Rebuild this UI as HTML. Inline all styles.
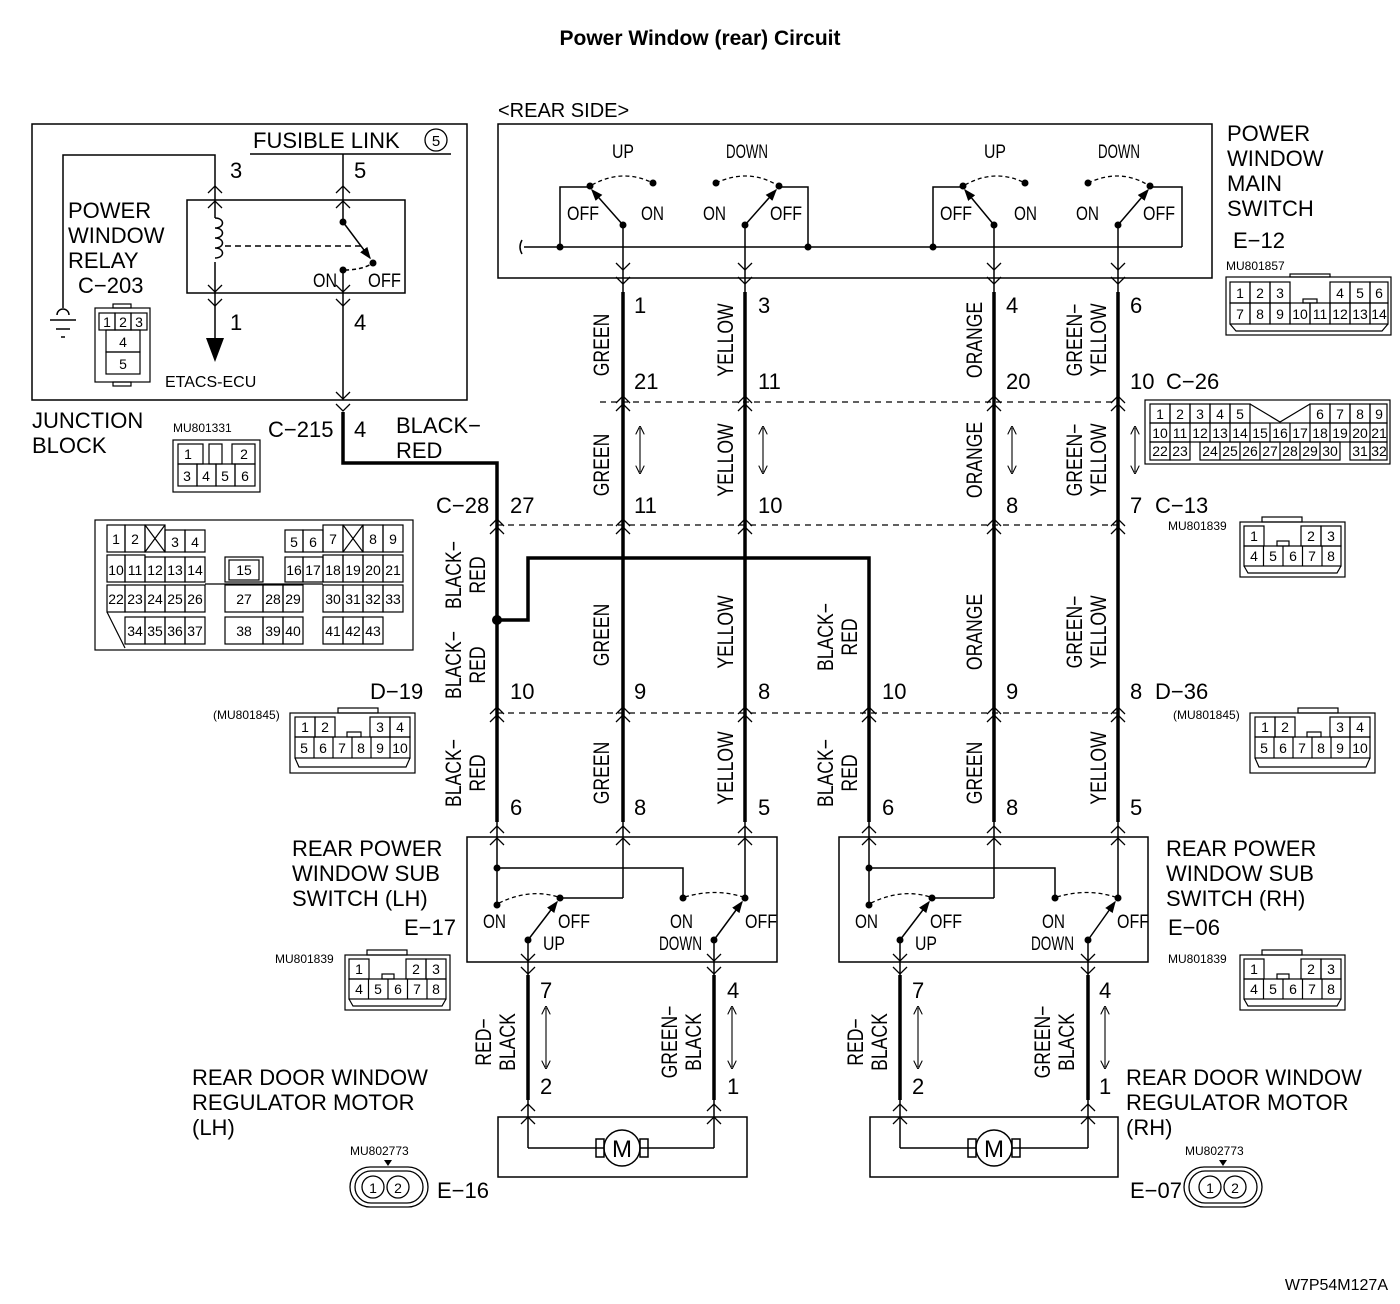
<!DOCTYPE html>
<html><head><meta charset="utf-8"><style>
html,body{margin:0;padding:0;background:#fff}
svg{display:block}
text{font-family:"Liberation Sans",Arial,sans-serif;fill:#000}
.n{font-family:"Liberation Sans Narrow","Liberation Sans",sans-serif}
.c{font-size:14px;text-anchor:middle;font-family:"Liberation Sans Narrow","Liberation Sans",sans-serif}
.w{font-size:22px;text-anchor:middle;font-family:"Liberation Sans Narrow","Liberation Sans",sans-serif}
.b{font-size:22px}
.num{font-size:22px;font-family:"Liberation Sans Narrow","Liberation Sans",sans-serif}
.s{font-size:19px;font-family:"Liberation Sans Narrow","Liberation Sans",sans-serif}
</style></head><body>
<svg width="1400" height="1304" viewBox="0 0 1400 1304" xmlns="http://www.w3.org/2000/svg">
<defs>
<polyline id="dn" points="-7,-7 0,0 7,-7" fill="none" stroke="#000" stroke-width="1.3"/>
<polyline id="up" points="-7,7 0,0 7,7" fill="none" stroke="#000" stroke-width="1.3"/>
<marker id="ah" markerWidth="8" markerHeight="8" refX="6" refY="4" orient="auto-start-reverse"><path d="M0,0 L8,4 L0,8" fill="none" stroke="#000"/></marker>
<marker id="af" markerWidth="8" markerHeight="8" refX="7" refY="4" orient="auto"><path d="M0,1 L8,4 L0,7z" fill="#000"/></marker>
</defs>

<text x="700" y="45" text-anchor="middle" style="font-size:21px;font-weight:bold">Power Window (rear) Circuit</text>

<!-- JUNCTION BLOCK -->
<g fill="none" stroke="#000" stroke-width="1.5">
<rect x="32" y="124" width="435" height="276"/>
<line x1="250" y1="154" x2="451" y2="154"/>
<rect x="187" y="200" width="218" height="93"/>
<polyline points="215,200 215,155 63,155 63,308"/>
<line x1="215" y1="200" x2="215" y2="218"/>
<line x1="215" y1="262" x2="215" y2="330"/>
<path d="M215,218 c10,0 10,10 0,10 c10,0 10,10 0,10 c10,0 10,10 0,10 c10,0 10,10 0,10" />
<line x1="225" y1="246" x2="365" y2="246" stroke-dasharray="6,4"/>
<line x1="343" y1="154" x2="343" y2="222"/>
<line x1="343" y1="222" x2="370" y2="258" marker-end="url(#af)"/>
<line x1="343" y1="270" x2="343" y2="400"/>
<path d="M345,270 Q362,270 373,263" stroke-dasharray="4,3"/>
</g>
<circle cx="343" cy="222" r="3.5"/><circle cx="373" cy="263" r="3.5"/><circle cx="343" cy="270" r="3.5"/>
<polygon points="206,338 224,338 215,362"/>
<line x1="215" y1="330" x2="215" y2="340" stroke="#000" stroke-width="1.5"/>
<g stroke="#000" stroke-width="1.5" fill="none"><path d="M57,315 a6,6 0 0 1 12,0"/><line x1="50" y1="320" x2="76" y2="320"/><line x1="56" y1="329" x2="70" y2="329"/><line x1="61" y1="337" x2="65" y2="337"/></g>
<g>
<use href="#up" x="215" y="186"/><use href="#up" x="215" y="201"/>
<use href="#up" x="343" y="186"/><use href="#up" x="343" y="201"/>
<use href="#dn" x="215" y="292"/><use href="#dn" x="215" y="306"/>
<use href="#dn" x="343" y="292"/><use href="#dn" x="343" y="306"/>
<use href="#dn" x="343" y="399"/><use href="#dn" x="343" y="411"/>
</g>
<text x="253" y="148" class="b">FUSIBLE LINK</text>
<circle cx="436" cy="140" r="11" fill="none" stroke="#000" stroke-width="1.3"/><text x="436" y="146" text-anchor="middle" style="font-size:15px">5</text>
<text x="230" y="178" class="num">3</text><text x="354" y="178" class="num">5</text>
<text x="230" y="330" class="num">1</text><text x="354" y="330" class="num">4</text>
<text x="68" y="218" class="b">POWER</text><text x="68" y="243" class="b">WINDOW</text><text x="68" y="268" class="b">RELAY</text>
<text x="78" y="293" class="num">C−203</text>
<text x="313" y="287" class="s" textLength="24" lengthAdjust="spacingAndGlyphs">ON</text><text x="368" y="287" class="s" textLength="33" lengthAdjust="spacingAndGlyphs">OFF</text>
<text x="165" y="387" style="font-size:16px">ETACS-ECU</text>
<text x="32" y="428" class="b">JUNCTION</text><text x="32" y="453" class="b">BLOCK</text>
<text x="268" y="437" class="num">C−215</text><text x="354" y="437" class="num">4</text>
<text x="396" y="433" class="b">BLACK−</text><text x="396" y="458" class="b">RED</text>
<!-- C-203 -->
<g fill="none" stroke="#000" stroke-width="1.2">
<rect x="95" y="308" width="55" height="74"/><rect x="113" y="304" width="18" height="4"/><rect x="113" y="382" width="18" height="4"/>
<rect x="99" y="313" width="16" height="17"/><rect x="115" y="313" width="16" height="17"/><rect x="131" y="313" width="16" height="17"/>
<rect x="106" y="330" width="34" height="22"/><rect x="106" y="352" width="34" height="22"/>
</g>
<text x="107" y="327" class="c">1</text><text x="123" y="327" class="c">2</text><text x="139" y="327" class="c">3</text>
<text x="123" y="347" class="c">4</text><text x="123" y="369" class="c">5</text>
<!-- C-215 -->
<text x="173" y="432" style="font-size:12px" class="n">MU801331</text>
<g fill="none" stroke="#000" stroke-width="1.2">
<rect x="173" y="440" width="87" height="52"/>
<rect x="178" y="444" width="25" height="20"/><rect x="209" y="444" width="13" height="20"/><rect x="232" y="444" width="23" height="20"/>
<rect x="178" y="464" width="19" height="22"/><rect x="197" y="464" width="19" height="22"/><rect x="216" y="464" width="19" height="22"/><rect x="235" y="464" width="20" height="22"/>
</g>
<text x="188" y="459" class="c">1</text><text x="244" y="459" class="c">2</text>
<text x="187" y="481" class="c">3</text><text x="206" y="481" class="c">4</text><text x="225" y="481" class="c">5</text><text x="245" y="481" class="c">6</text>

<!-- C-28 big connector -->
<g fill="none" stroke="#000" stroke-width="1.2">
<rect x="95" y="520" width="318" height="130"/>
<rect x="107" y="525" width="18" height="27"/><rect x="125" y="525" width="20" height="27"/><rect x="145" y="525" width="20" height="27"/><rect x="165" y="530" width="20" height="22"/><rect x="185" y="530" width="20" height="22"/>
<line x1="145" y1="525" x2="165" y2="552"/><line x1="165" y1="525" x2="145" y2="552"/>
<rect x="107" y="555" width="18" height="27"/><rect x="125" y="555" width="20" height="27"/><rect x="145" y="557" width="20" height="25"/><rect x="165" y="557" width="20" height="25"/><rect x="185" y="557" width="20" height="25"/>
<rect x="107" y="585" width="18" height="27"/><rect x="125" y="585" width="20" height="27"/><rect x="145" y="585" width="20" height="27"/><rect x="165" y="585" width="20" height="27"/><rect x="185" y="585" width="20" height="27"/>
<rect x="125" y="617" width="20" height="27"/><rect x="145" y="617" width="20" height="27"/><rect x="165" y="617" width="20" height="27"/><rect x="185" y="617" width="20" height="27"/>
<line x1="107" y1="612" x2="125" y2="648"/>
<rect x="225" y="557" width="38" height="25"/><rect x="229" y="560" width="30" height="20"/>
<rect x="225" y="585" width="38" height="27"/><rect x="263" y="585" width="20" height="27"/><rect x="283" y="585" width="20" height="27"/>
<rect x="225" y="617" width="38" height="27"/><rect x="263" y="617" width="20" height="27"/><rect x="283" y="617" width="20" height="27"/>
<rect x="285" y="530" width="18" height="22"/><rect x="303" y="530" width="20" height="22"/><rect x="323" y="525" width="20" height="27"/><rect x="343" y="525" width="20" height="27"/><rect x="363" y="525" width="20" height="27"/><rect x="383" y="525" width="20" height="27"/>
<line x1="343" y1="525" x2="363" y2="552"/><line x1="363" y1="525" x2="343" y2="552"/>
<rect x="285" y="557" width="18" height="25"/><rect x="303" y="557" width="20" height="25"/><rect x="323" y="555" width="20" height="27"/><rect x="343" y="555" width="20" height="27"/><rect x="363" y="555" width="20" height="27"/><rect x="383" y="555" width="20" height="27"/>
<rect x="323" y="585" width="20" height="27"/><rect x="343" y="585" width="20" height="27"/><rect x="363" y="585" width="20" height="27"/><rect x="383" y="585" width="20" height="27"/>
<rect x="323" y="617" width="20" height="27"/><rect x="343" y="617" width="20" height="27"/><rect x="363" y="617" width="20" height="27"/>
<line x1="205" y1="584" x2="323" y2="584"/>
</g>
<g>
<text x="116" y="544" class="c">1</text><text x="135" y="544" class="c">2</text><text x="175" y="547" class="c">3</text><text x="195" y="547" class="c">4</text>
<text x="116" y="575" class="c">10</text><text x="135" y="575" class="c">11</text><text x="155" y="575" class="c">12</text><text x="175" y="575" class="c">13</text><text x="195" y="575" class="c">14</text>
<text x="116" y="604" class="c">22</text><text x="135" y="604" class="c">23</text><text x="155" y="604" class="c">24</text><text x="175" y="604" class="c">25</text><text x="195" y="604" class="c">26</text>
<text x="135" y="636" class="c">34</text><text x="155" y="636" class="c">35</text><text x="175" y="636" class="c">36</text><text x="195" y="636" class="c">37</text>
<text x="244" y="575" class="c">15</text><text x="244" y="604" class="c">27</text><text x="273" y="604" class="c">28</text><text x="293" y="604" class="c">29</text>
<text x="244" y="636" class="c">38</text><text x="273" y="636" class="c">39</text><text x="293" y="636" class="c">40</text>
<text x="294" y="547" class="c">5</text><text x="313" y="547" class="c">6</text><text x="333" y="544" class="c">7</text><text x="373" y="544" class="c">8</text><text x="393" y="544" class="c">9</text>
<text x="294" y="575" class="c">16</text><text x="313" y="575" class="c">17</text><text x="333" y="575" class="c">18</text><text x="353" y="575" class="c">19</text><text x="373" y="575" class="c">20</text><text x="393" y="575" class="c">21</text>
<text x="333" y="604" class="c">30</text><text x="353" y="604" class="c">31</text><text x="373" y="604" class="c">32</text><text x="393" y="604" class="c">33</text>
<text x="333" y="636" class="c">41</text><text x="353" y="636" class="c">42</text><text x="373" y="636" class="c">43</text>
</g>

<!-- MAIN SWITCH -->
<text x="498" y="117" style="font-size:20px">&lt;REAR SIDE&gt;</text>
<g fill="none" stroke="#000" stroke-width="1.5">
<rect x="498" y="124" width="714" height="154"/>
<path d="M522,240 q-4,7 0,14"/>
<line x1="524" y1="247" x2="1182" y2="247"/>
<polyline points="560,247 560,187 590,187"/>
<polyline points="779,187 808,187 808,247"/>
<polyline points="933,247 933,187 963,187"/>
<polyline points="1150,187 1182,187 1182,247"/>
<line x1="623" y1="225" x2="592" y2="190" marker-end="url(#af)"/>
<line x1="745" y1="225" x2="776" y2="190" marker-end="url(#af)"/>
<line x1="994" y1="225" x2="965" y2="190" marker-end="url(#af)"/>
<line x1="1118" y1="225" x2="1148" y2="190" marker-end="url(#af)"/>
<g stroke-dasharray="4,3" stroke-width="1.3">
<path d="M592,185 Q622,168 653,183"/><path d="M716,183 Q748,168 777,185"/>
<path d="M965,185 Q995,168 1025,183"/><path d="M1088,183 Q1120,168 1148,185"/>
</g>
</g>
<g>
<circle cx="590" cy="186" r="3.5"/><circle cx="653" cy="183" r="3.5"/><circle cx="623" cy="225" r="3.5"/>
<circle cx="716" cy="183" r="3.5"/><circle cx="779" cy="186" r="3.5"/><circle cx="745" cy="225" r="3.5"/>
<circle cx="963" cy="186" r="3.5"/><circle cx="1025" cy="183" r="3.5"/><circle cx="994" cy="225" r="3.5"/>
<circle cx="1088" cy="183" r="3.5"/><circle cx="1150" cy="186" r="3.5"/><circle cx="1118" cy="225" r="3.5"/>
<circle cx="560" cy="247" r="3.5"/><circle cx="808" cy="247" r="3.5"/><circle cx="933" cy="247" r="3.5"/>
</g>
<g class="s">
<text x="612" y="158" textLength="22" lengthAdjust="spacingAndGlyphs">UP</text><text x="726" y="158" textLength="42" lengthAdjust="spacingAndGlyphs">DOWN</text><text x="984" y="158" textLength="22" lengthAdjust="spacingAndGlyphs">UP</text><text x="1098" y="158" textLength="42" lengthAdjust="spacingAndGlyphs">DOWN</text>
<text x="567" y="220" textLength="32" lengthAdjust="spacingAndGlyphs">OFF</text><text x="641" y="220" textLength="23" lengthAdjust="spacingAndGlyphs">ON</text><text x="703" y="220" textLength="23" lengthAdjust="spacingAndGlyphs">ON</text><text x="770" y="220" textLength="32" lengthAdjust="spacingAndGlyphs">OFF</text>
<text x="940" y="220" textLength="32" lengthAdjust="spacingAndGlyphs">OFF</text><text x="1014" y="220" textLength="23" lengthAdjust="spacingAndGlyphs">ON</text><text x="1076" y="220" textLength="23" lengthAdjust="spacingAndGlyphs">ON</text><text x="1143" y="220" textLength="32" lengthAdjust="spacingAndGlyphs">OFF</text>
</g>
<text x="1227" y="141" class="b">POWER</text><text x="1227" y="166" class="b">WINDOW</text><text x="1227" y="191" class="b">MAIN</text><text x="1227" y="216" class="b">SWITCH</text>
<text x="1233" y="248" class="num">E−12</text>
<text x="1226" y="270" style="font-size:12px" class="n">MU801857</text>
<!-- E-12 connector -->
<g fill="none" stroke="#000" stroke-width="1.2">
<rect x="1226" y="277" width="165" height="58"/><rect x="1290" y="274" width="40" height="3"/>
<rect x="1230" y="282" width="20" height="21"/><rect x="1250" y="282" width="20" height="21"/><rect x="1270" y="282" width="20" height="21"/>
<rect x="1330" y="282" width="20" height="21"/><rect x="1350" y="282" width="20" height="21"/><rect x="1370" y="282" width="18" height="21"/>
<rect x="1303" y="299" width="14" height="4"/>
<rect x="1230" y="303" width="20" height="21"/><rect x="1250" y="303" width="20" height="21"/><rect x="1270" y="303" width="20" height="21"/><rect x="1290" y="303" width="20" height="21"/><rect x="1310" y="303" width="20" height="21"/><rect x="1330" y="303" width="20" height="21"/><rect x="1350" y="303" width="20" height="21"/><rect x="1370" y="303" width="18" height="21"/>
<polyline points="1230,324 1236,331 1382,331 1388,324"/>
</g>
<g>
<text x="1240" y="298" class="c">1</text><text x="1260" y="298" class="c">2</text><text x="1280" y="298" class="c">3</text><text x="1340" y="298" class="c">4</text><text x="1360" y="298" class="c">5</text><text x="1379" y="298" class="c">6</text>
<text x="1240" y="319" class="c">7</text><text x="1260" y="319" class="c">8</text><text x="1280" y="319" class="c">9</text><text x="1300" y="319" class="c">10</text><text x="1320" y="319" class="c">11</text><text x="1340" y="319" class="c">12</text><text x="1360" y="319" class="c">13</text><text x="1379" y="319" class="c">14</text>
</g>

<!-- C-26 connector -->
<g fill="none" stroke="#000" stroke-width="1.2">
<rect x="1145" y="400" width="245" height="64"/>
<rect x="1150" y="404" width="20" height="19"/><rect x="1170" y="404" width="20" height="19"/><rect x="1190" y="404" width="20" height="19"/><rect x="1210" y="404" width="20" height="19"/><rect x="1230" y="404" width="20" height="19"/>
<polyline points="1250,404 1280,422 1310,404"/>
<rect x="1310" y="404" width="20" height="19"/><rect x="1330" y="404" width="20" height="19"/><rect x="1350" y="404" width="20" height="19"/><rect x="1370" y="404" width="17" height="19"/>
<rect x="1150" y="423" width="237" height="19"/>
<line x1="1170" y1="423" x2="1170" y2="442"/><line x1="1190" y1="423" x2="1190" y2="442"/><line x1="1210" y1="423" x2="1210" y2="442"/><line x1="1230" y1="423" x2="1230" y2="442"/><line x1="1250" y1="423" x2="1250" y2="442"/><line x1="1270" y1="423" x2="1270" y2="442"/><line x1="1290" y1="423" x2="1290" y2="442"/><line x1="1310" y1="423" x2="1310" y2="442"/><line x1="1330" y1="423" x2="1330" y2="442"/><line x1="1350" y1="423" x2="1350" y2="442"/><line x1="1370" y1="423" x2="1370" y2="442"/>
<rect x="1150" y="442" width="20" height="18"/><rect x="1170" y="442" width="20" height="18"/>
<rect x="1200" y="442" width="140" height="18"/>
<line x1="1220" y1="442" x2="1220" y2="460"/><line x1="1240" y1="442" x2="1240" y2="460"/><line x1="1260" y1="442" x2="1260" y2="460"/><line x1="1280" y1="442" x2="1280" y2="460"/><line x1="1300" y1="442" x2="1300" y2="460"/><line x1="1320" y1="442" x2="1320" y2="460"/>
<rect x="1350" y="442" width="20" height="18"/><rect x="1370" y="442" width="17" height="18"/>
</g>
<g>
<text x="1160" y="419" class="c">1</text><text x="1180" y="419" class="c">2</text><text x="1200" y="419" class="c">3</text><text x="1220" y="419" class="c">4</text><text x="1240" y="419" class="c">5</text><text x="1320" y="419" class="c">6</text><text x="1340" y="419" class="c">7</text><text x="1360" y="419" class="c">8</text><text x="1379" y="419" class="c">9</text>
<text x="1160" y="438" class="c">10</text><text x="1180" y="438" class="c">11</text><text x="1200" y="438" class="c">12</text><text x="1220" y="438" class="c">13</text><text x="1240" y="438" class="c">14</text><text x="1260" y="438" class="c">15</text><text x="1280" y="438" class="c">16</text><text x="1300" y="438" class="c">17</text><text x="1320" y="438" class="c">18</text><text x="1340" y="438" class="c">19</text><text x="1360" y="438" class="c">20</text><text x="1379" y="438" class="c">21</text>
<text x="1160" y="456" class="c">22</text><text x="1180" y="456" class="c">23</text><text x="1210" y="456" class="c">24</text><text x="1230" y="456" class="c">25</text><text x="1250" y="456" class="c">26</text><text x="1270" y="456" class="c">27</text><text x="1290" y="456" class="c">28</text><text x="1310" y="456" class="c">29</text><text x="1330" y="456" class="c">30</text><text x="1360" y="456" class="c">31</text><text x="1379" y="456" class="c">32</text>
</g>

<!-- C-13 connector -->
<text x="1168" y="530" style="font-size:12px" class="n">MU801839</text>
<g id="c13">
<g fill="none" stroke="#000" stroke-width="1.2">
<rect x="1240" y="522" width="105" height="55"/><rect x="1262" y="517" width="40" height="5"/>
<rect x="1244" y="526" width="20" height="20"/><rect x="1301" y="526" width="20" height="20"/><rect x="1321" y="526" width="20" height="20"/>
<rect x="1277" y="541" width="12" height="5"/>
<rect x="1244" y="546" width="97" height="20"/>
<line x1="1263.5" y1="546" x2="1263.5" y2="566"/><line x1="1283" y1="546" x2="1283" y2="566"/><line x1="1302.5" y1="546" x2="1302.5" y2="566"/><line x1="1322" y1="546" x2="1322" y2="566"/>
<polyline points="1244,566 1248,573 1337,573 1341,566"/>
</g>
<text x="1254" y="541" class="c">1</text><text x="1311" y="541" class="c">2</text><text x="1331" y="541" class="c">3</text>
<text x="1254" y="561" class="c">4</text><text x="1273" y="561" class="c">5</text><text x="1293" y="561" class="c">6</text><text x="1312" y="561" class="c">7</text><text x="1331" y="561" class="c">8</text>
</g>
<use href="#c13" x="-895" y="433"/>
<use href="#c13" x="0" y="433"/>
<text x="275" y="963" style="font-size:12px" class="n">MU801839</text>
<text x="1168" y="963" style="font-size:12px" class="n">MU801839</text>

<!-- D-19 connector -->
<text x="213" y="719" style="font-size:12px" class="n">(MU801845)</text>
<g id="d19">
<g fill="none" stroke="#000" stroke-width="1.2">
<rect x="290" y="713" width="125" height="60"/><rect x="338" y="708" width="40" height="5"/>
<rect x="295" y="717" width="20" height="20"/><rect x="315" y="717" width="20" height="20"/><rect x="370" y="717" width="20" height="20"/><rect x="390" y="717" width="20" height="20"/>
<rect x="347" y="732" width="14" height="5"/>
<rect x="295" y="737" width="115" height="21"/>
<line x1="314" y1="737" x2="314" y2="758"/><line x1="333" y1="737" x2="333" y2="758"/><line x1="352" y1="737" x2="352" y2="758"/><line x1="371" y1="737" x2="371" y2="758"/><line x1="390" y1="737" x2="390" y2="758"/>
<polyline points="295,758 299,767 406,767 410,758"/>
</g>
<text x="305" y="732" class="c">1</text><text x="325" y="732" class="c">2</text><text x="380" y="732" class="c">3</text><text x="400" y="732" class="c">4</text>
<text x="304" y="753" class="c">5</text><text x="323" y="753" class="c">6</text><text x="342" y="753" class="c">7</text><text x="361" y="753" class="c">8</text><text x="380" y="753" class="c">9</text><text x="400" y="753" class="c">10</text>
</g>
<use href="#d19" x="960" y="0"/>
<text x="1173" y="719" style="font-size:12px" class="n">(MU801845)</text>

<!-- WIRES -->
<g fill="none" stroke="#000" stroke-width="1.5">
<line x1="623" y1="225" x2="623" y2="292"/><line x1="745" y1="225" x2="745" y2="292"/><line x1="994" y1="225" x2="994" y2="292"/><line x1="1118" y1="225" x2="1118" y2="292"/>
<line x1="623" y1="822" x2="623" y2="898"/><polyline points="623,898 560,898"/>
<line x1="745" y1="822" x2="745" y2="898"/>
<line x1="994" y1="822" x2="994" y2="898"/><polyline points="994,898 932,898"/>
<line x1="1118" y1="822" x2="1118" y2="898"/>
<line x1="497" y1="822" x2="497" y2="905"/><polyline points="497,868 683,868 683,898"/>
<line x1="869" y1="822" x2="869" y2="905"/><polyline points="869,868 1055,868 1055,898"/>
<line x1="528" y1="940" x2="528" y2="975"/><line x1="714" y1="940" x2="714" y2="975"/>
<line x1="900" y1="940" x2="900" y2="975"/><line x1="1088" y1="940" x2="1088" y2="975"/>
<line x1="528" y1="1100" x2="528" y2="1148"/><line x1="714" y1="1100" x2="714" y2="1148"/>
<line x1="900" y1="1100" x2="900" y2="1148"/><line x1="1088" y1="1100" x2="1088" y2="1148"/>
<polyline points="528,1148 604,1148"/><polyline points="640,1148 714,1148"/>
<polyline points="900,1148 976,1148"/><polyline points="1012,1148 1088,1148"/>
<g stroke-dasharray="6,5" stroke-width="1.2">
<line x1="600" y1="402" x2="1118" y2="402"/>
<line x1="497" y1="525" x2="1118" y2="525"/>
<line x1="497" y1="713" x2="1118" y2="713"/>
</g>
<rect x="467" y="837" width="310" height="125"/>
<rect x="839" y="837" width="309" height="125"/>
<rect x="498" y="1117" width="249" height="60"/>
<rect x="870" y="1117" width="248" height="60"/>
<line x1="528" y1="940" x2="557" y2="902" marker-end="url(#af)"/>
<line x1="714" y1="940" x2="742" y2="902" marker-end="url(#af)"/>
<line x1="900" y1="940" x2="929" y2="902" marker-end="url(#af)"/>
<line x1="1088" y1="940" x2="1115" y2="902" marker-end="url(#af)"/>
<g stroke-dasharray="4,3" stroke-width="1.3">
<path d="M499,903 Q530,888 558,897"/><path d="M685,897 Q715,888 743,897"/>
<path d="M871,903 Q902,888 930,897"/><path d="M1057,897 Q1087,888 1115,897"/>
</g>
<circle cx="622" cy="1148" r="18"/><rect x="596" y="1139" width="8" height="18"/><rect x="640" y="1139" width="8" height="18"/>
<circle cx="994" cy="1148" r="18"/><rect x="968" y="1139" width="8" height="18"/><rect x="1012" y="1139" width="8" height="18"/>
<g stroke-width="1.1">
<line x1="640" y1="428" x2="640" y2="472" marker-end="url(#ah)" marker-start="url(#ah)"/>
<line x1="763" y1="428" x2="763" y2="472" marker-end="url(#ah)" marker-start="url(#ah)"/>
<line x1="1012" y1="428" x2="1012" y2="472" marker-end="url(#ah)" marker-start="url(#ah)"/>
<line x1="1135" y1="428" x2="1135" y2="472" marker-end="url(#ah)" marker-start="url(#ah)"/>
<line x1="546" y1="1008" x2="546" y2="1067" marker-end="url(#ah)" marker-start="url(#ah)"/>
<line x1="732" y1="1008" x2="732" y2="1067" marker-end="url(#ah)" marker-start="url(#ah)"/>
<line x1="918" y1="1008" x2="918" y2="1067" marker-end="url(#ah)" marker-start="url(#ah)"/>
<line x1="1105" y1="1008" x2="1105" y2="1067" marker-end="url(#ah)" marker-start="url(#ah)"/>
</g>
</g>
<g fill="none" stroke="#000" stroke-width="3.5">
<line x1="623" y1="292" x2="623" y2="822"/><line x1="745" y1="292" x2="745" y2="822"/>
<line x1="994" y1="292" x2="994" y2="822"/><line x1="1118" y1="292" x2="1118" y2="822"/>
<polyline points="343,412 343,463 497,463 497,822"/>
<polyline points="497,620 528,620 528,558 869,558 869,822"/>
<line x1="528" y1="975" x2="528" y2="1100"/><line x1="714" y1="975" x2="714" y2="1100"/>
<line x1="900" y1="975" x2="900" y2="1100"/><line x1="1088" y1="975" x2="1088" y2="1100"/>
</g>
<circle cx="497" cy="620" r="5"/>
<g>
<circle cx="497" cy="868" r="3.5"/><circle cx="497" cy="905" r="3.5"/><circle cx="560" cy="898" r="3.5"/><circle cx="528" cy="940" r="3.5"/><circle cx="683" cy="898" r="3.5"/><circle cx="745" cy="898" r="3.5"/><circle cx="714" cy="940" r="3.5"/>
<circle cx="869" cy="868" r="3.5"/><circle cx="869" cy="905" r="3.5"/><circle cx="932" cy="898" r="3.5"/><circle cx="900" cy="940" r="3.5"/><circle cx="1055" cy="898" r="3.5"/><circle cx="1118" cy="898" r="3.5"/><circle cx="1088" cy="940" r="3.5"/>
</g>
<g>
<use href="#dn" x="623" y="270"/><use href="#dn" x="623" y="284"/><use href="#dn" x="745" y="270"/><use href="#dn" x="745" y="284"/>
<use href="#dn" x="994" y="270"/><use href="#dn" x="994" y="284"/><use href="#dn" x="1118" y="270"/><use href="#dn" x="1118" y="284"/>
<use href="#up" x="623" y="396"/><use href="#up" x="623" y="404"/><use href="#up" x="745" y="396"/><use href="#up" x="745" y="404"/>
<use href="#up" x="994" y="396"/><use href="#up" x="994" y="404"/><use href="#up" x="1118" y="396"/><use href="#up" x="1118" y="404"/>
<use href="#up" x="497" y="519"/><use href="#up" x="497" y="527"/>
<use href="#up" x="623" y="519"/><use href="#up" x="623" y="527"/><use href="#up" x="745" y="519"/><use href="#up" x="745" y="527"/>
<use href="#up" x="994" y="519"/><use href="#up" x="994" y="527"/><use href="#up" x="1118" y="519"/><use href="#up" x="1118" y="527"/>
<use href="#up" x="497" y="707"/><use href="#up" x="497" y="715"/><use href="#up" x="623" y="707"/><use href="#up" x="623" y="715"/>
<use href="#up" x="745" y="707"/><use href="#up" x="745" y="715"/><use href="#up" x="869" y="707"/><use href="#up" x="869" y="715"/>
<use href="#up" x="994" y="707"/><use href="#up" x="994" y="715"/><use href="#up" x="1118" y="707"/><use href="#up" x="1118" y="715"/>
<use href="#up" x="497" y="826"/><use href="#up" x="497" y="838"/><use href="#up" x="623" y="826"/><use href="#up" x="623" y="838"/><use href="#up" x="745" y="826"/><use href="#up" x="745" y="838"/>
<use href="#up" x="869" y="826"/><use href="#up" x="869" y="838"/><use href="#up" x="994" y="826"/><use href="#up" x="994" y="838"/><use href="#up" x="1118" y="826"/><use href="#up" x="1118" y="838"/>
<use href="#dn" x="528" y="961"/><use href="#dn" x="528" y="974"/><use href="#dn" x="714" y="961"/><use href="#dn" x="714" y="974"/>
<use href="#dn" x="900" y="961"/><use href="#dn" x="900" y="974"/><use href="#dn" x="1088" y="961"/><use href="#dn" x="1088" y="974"/>
<use href="#up" x="528" y="1104"/><use href="#up" x="528" y="1117"/><use href="#up" x="714" y="1104"/><use href="#up" x="714" y="1117"/>
<use href="#up" x="900" y="1104"/><use href="#up" x="900" y="1117"/><use href="#up" x="1088" y="1104"/><use href="#up" x="1088" y="1117"/>
</g>

<g class="num">
<text x="634" y="313">1</text><text x="634" y="389">21</text><text x="634" y="513">11</text><text x="634" y="699">9</text><text x="634" y="815">8</text>
<text x="758" y="313">3</text><text x="758" y="389">11</text><text x="758" y="513">10</text><text x="758" y="699">8</text><text x="758" y="815">5</text>
<text x="1006" y="313">4</text><text x="1006" y="389">20</text><text x="1006" y="513">8</text><text x="1006" y="699">9</text><text x="1006" y="815">8</text>
<text x="1130" y="313">6</text><text x="1130" y="389">10</text><text x="1166" y="389">C−26</text><text x="1130" y="513">7</text><text x="1155" y="513">C−13</text><text x="1130" y="699">8</text><text x="1155" y="699">D−36</text><text x="1130" y="815">5</text>
<text x="436" y="513">C−28</text><text x="510" y="513">27</text>
<text x="510" y="699">10</text><text x="370" y="699">D−19</text><text x="510" y="815">6</text>
<text x="882" y="699">10</text><text x="882" y="815">6</text>
<text x="540" y="998">7</text><text x="727" y="998">4</text><text x="540" y="1094">2</text><text x="727" y="1094">1</text>
<text x="912" y="998">7</text><text x="1099" y="998">4</text><text x="912" y="1094">2</text><text x="1099" y="1094">1</text>
<text x="404" y="935">E−17</text><text x="1168" y="935">E−06</text>
<text x="437" y="1198">E−16</text><text x="1130" y="1198">E−07</text>
</g>

<g class="w">
<text transform="translate(609,345) rotate(-90) scale(0.8,1)">GREEN</text>
<text transform="translate(609,465) rotate(-90) scale(0.8,1)">GREEN</text>
<text transform="translate(609,635) rotate(-90) scale(0.8,1)">GREEN</text>
<text transform="translate(609,773) rotate(-90) scale(0.8,1)">GREEN</text>
<text transform="translate(733,340) rotate(-90) scale(0.8,1)">YELLOW</text>
<text transform="translate(733,460) rotate(-90) scale(0.8,1)">YELLOW</text>
<text transform="translate(733,632) rotate(-90) scale(0.8,1)">YELLOW</text>
<text transform="translate(733,768) rotate(-90) scale(0.8,1)">YELLOW</text>
<text transform="translate(982,340) rotate(-90) scale(0.8,1)">ORANGE</text>
<text transform="translate(982,460) rotate(-90) scale(0.8,1)">ORANGE</text>
<text transform="translate(982,632) rotate(-90) scale(0.8,1)">ORANGE</text>
<text transform="translate(982,773) rotate(-90) scale(0.8,1)">GREEN</text>
<text transform="translate(1082,340) rotate(-90) scale(0.8,1)">GREEN−</text><text transform="translate(1106,340) rotate(-90) scale(0.8,1)">YELLOW</text>
<text transform="translate(1082,460) rotate(-90) scale(0.8,1)">GREEN−</text><text transform="translate(1106,460) rotate(-90) scale(0.8,1)">YELLOW</text>
<text transform="translate(1082,632) rotate(-90) scale(0.8,1)">GREEN−</text><text transform="translate(1106,632) rotate(-90) scale(0.8,1)">YELLOW</text>
<text transform="translate(1106,768) rotate(-90) scale(0.8,1)">YELLOW</text>
<text transform="translate(461,575) rotate(-90) scale(0.8,1)">BLACK−</text><text transform="translate(485,575) rotate(-90) scale(0.8,1)">RED</text>
<text transform="translate(461,665) rotate(-90) scale(0.8,1)">BLACK−</text><text transform="translate(485,665) rotate(-90) scale(0.8,1)">RED</text>
<text transform="translate(461,773) rotate(-90) scale(0.8,1)">BLACK−</text><text transform="translate(485,773) rotate(-90) scale(0.8,1)">RED</text>
<text transform="translate(833,637) rotate(-90) scale(0.8,1)">BLACK−</text><text transform="translate(857,637) rotate(-90) scale(0.8,1)">RED</text>
<text transform="translate(833,773) rotate(-90) scale(0.8,1)">BLACK−</text><text transform="translate(857,773) rotate(-90) scale(0.8,1)">RED</text>
<text transform="translate(491,1042) rotate(-90) scale(0.8,1)">RED−</text><text transform="translate(515,1042) rotate(-90) scale(0.8,1)">BLACK</text>
<text transform="translate(677,1042) rotate(-90) scale(0.8,1)">GREEN−</text><text transform="translate(701,1042) rotate(-90) scale(0.8,1)">BLACK</text>
<text transform="translate(863,1042) rotate(-90) scale(0.8,1)">RED−</text><text transform="translate(887,1042) rotate(-90) scale(0.8,1)">BLACK</text>
<text transform="translate(1050,1042) rotate(-90) scale(0.8,1)">GREEN−</text><text transform="translate(1074,1042) rotate(-90) scale(0.8,1)">BLACK</text>
</g>

<g class="s">
<text x="483" y="928" textLength="23" lengthAdjust="spacingAndGlyphs">ON</text><text x="558" y="928" textLength="32" lengthAdjust="spacingAndGlyphs">OFF</text><text x="543" y="950" textLength="22" lengthAdjust="spacingAndGlyphs">UP</text><text x="670" y="928" textLength="23" lengthAdjust="spacingAndGlyphs">ON</text><text x="659" y="950" textLength="43" lengthAdjust="spacingAndGlyphs">DOWN</text><text x="745" y="928" textLength="32" lengthAdjust="spacingAndGlyphs">OFF</text>
<text x="855" y="928" textLength="23" lengthAdjust="spacingAndGlyphs">ON</text><text x="930" y="928" textLength="32" lengthAdjust="spacingAndGlyphs">OFF</text><text x="915" y="950" textLength="22" lengthAdjust="spacingAndGlyphs">UP</text><text x="1042" y="928" textLength="23" lengthAdjust="spacingAndGlyphs">ON</text><text x="1031" y="950" textLength="43" lengthAdjust="spacingAndGlyphs">DOWN</text><text x="1117" y="928" textLength="32" lengthAdjust="spacingAndGlyphs">OFF</text>
</g>
<g class="b">
<text x="292" y="856">REAR POWER</text><text x="292" y="881">WINDOW SUB</text><text x="292" y="906">SWITCH (LH)</text>
<text x="1166" y="856">REAR POWER</text><text x="1166" y="881">WINDOW SUB</text><text x="1166" y="906">SWITCH (RH)</text>
<text x="192" y="1085">REAR DOOR WINDOW</text><text x="192" y="1110">REGULATOR MOTOR</text><text x="192" y="1135">(LH)</text>
<text x="1126" y="1085">REAR DOOR WINDOW</text><text x="1126" y="1110">REGULATOR MOTOR</text><text x="1126" y="1135">(RH)</text>
</g>
<text x="622" y="1157" text-anchor="middle" style="font-size:24px">M</text>
<text x="994" y="1157" text-anchor="middle" style="font-size:24px">M</text>

<text x="350" y="1155" style="font-size:12px" class="n">MU802773</text>
<text x="1185" y="1155" style="font-size:12px" class="n">MU802773</text>
<g fill="none" stroke="#000" stroke-width="1.3">
<rect x="350" y="1167" width="78" height="40" rx="20"/><rect x="355" y="1171" width="68" height="32" rx="16"/>
<circle cx="373" cy="1187" r="11"/><circle cx="398" cy="1187" r="11"/>
<rect x="1184" y="1167" width="78" height="40" rx="20"/><rect x="1189" y="1171" width="68" height="32" rx="16"/>
<circle cx="1210" cy="1187" r="11"/><circle cx="1235" cy="1187" r="11"/>
</g>
<polygon points="384,1160 392,1160 388,1166"/><polygon points="1219,1160 1227,1160 1223,1166"/>
<text x="373" y="1193" class="c">1</text><text x="398" y="1193" class="c">2</text>
<text x="1210" y="1193" class="c">1</text><text x="1235" y="1193" class="c">2</text>

<text x="1388" y="1290" text-anchor="end" style="font-size:16px" class="n">W7P54M127A</text>
</svg>
</body></html>
